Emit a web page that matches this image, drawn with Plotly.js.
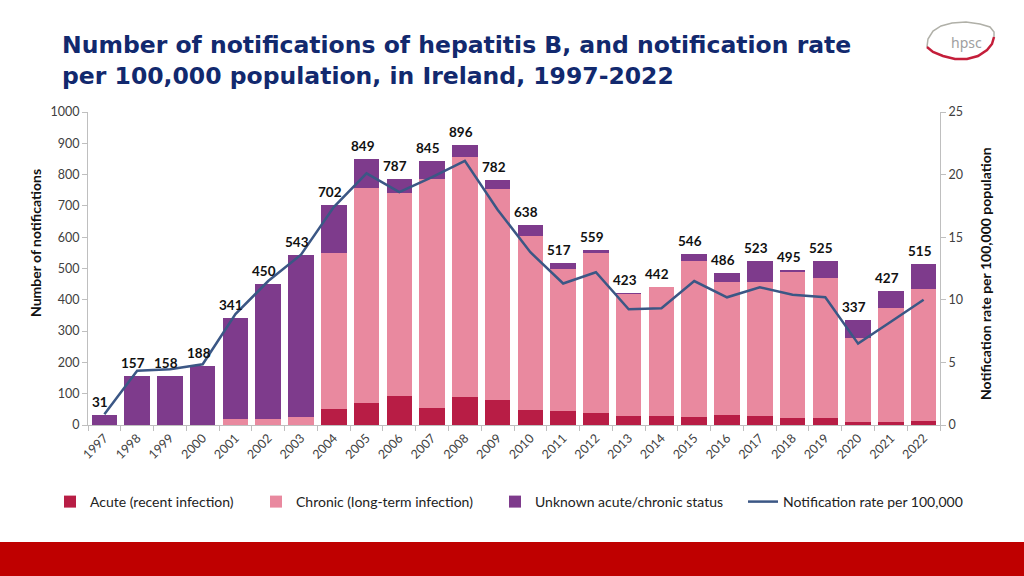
<!DOCTYPE html>
<html>
<head>
<meta charset="utf-8">
<script src="https://cdn.plot.ly/plotly-3.0.1.min.js"></script>
<style>
html,body{margin:0;padding:0;background:#fff;}
#chart{width:1024px;height:576px;}
</style>
</head>
<body>
<div id="chart"></div>
<script>
const years = ["1997","1998","1999","2000","2001","2002","2003","2004","2005","2006","2007","2008","2009","2010","2011","2012","2013","2014","2015","2016","2017","2018","2019","2020","2021","2022"];
const acute   = [0,0,0,0,0,0,0,51,69,94,55,89,80,48,45,37,29,29,26,32,29,23,23,11,11,13];
const chronic = [0,0,0,0,18,20,27,499,689,648,731,767,674,557,452,513,389,413,499,425,428,465,446,266,362,422];
const unknown = [31,157,158,188,323,430,516,152,91,45,59,40,28,33,20,9,5,0,21,29,66,7,56,60,54,80];
const totals  = [31,157,158,188,341,450,543,702,849,787,845,896,782,638,517,559,423,442,546,486,523,495,525,337,427,515];
const rate    = [0.85,4.34,4.45,4.85,8.86,11.5,13.6,17.4,20.1,18.6,19.8,21.1,17.2,13.8,11.3,12.2,9.24,9.32,11.5,10.2,11.0,10.4,10.2,6.5,8.25,10.0];

const W = 1024, H = 576;
const M = {l:88, r:84, t:112, b:151};
const pw = W - M.l - M.r, ph = H - M.t - M.b;
function px(x){ return (x - M.l) / pw; }
function py(y){ return (H - M.b - y) / ph; }

const FONT = "Lato, 'Open Sans', sans-serif";

const traces = [
  {type:'bar', name:'Acute (recent infection)', x:years, y:acute, marker:{color:'#b81d45'}, yaxis:'y', legend:'legend'},
  {type:'bar', name:'Chronic (long-term infection)', x:years, y:chronic, marker:{color:'#e9899f'}, yaxis:'y', legend:'legend2'},
  {type:'bar', name:'Unknown acute/chronic status', x:years, y:unknown, marker:{color:'#7e3b8c'}, yaxis:'y', legend:'legend3'},
  {type:'scatter', mode:'lines', name:'Notification rate per 100,000', x:years, y:rate, yaxis:'y2', legend:'legend4',
   line:{color:'#3b5785', width:2.5}}
];

const annotations = years.map((yr,i)=>({
  x: i, y: totals[i], xref:'x', yref:'y', text: String(totals[i]),
  showarrow:false, yanchor:'bottom', yshift:3, xshift:-4,
  font:{family:FONT, size:13.5, color:'#111', weight:'bold'}
}));

// title
annotations.push({
  xref:'paper', yref:'paper', x:px(60), y:py(60), xanchor:'left', yanchor:'middle', align:'left',
  showarrow:false,
  text:'Number of notifications of hepatitis B, and notification rate<br>per 100,000 population, in Ireland, 1997-2022',
  font:{family:"'DejaVu Sans', Verdana, sans-serif", size:23.5, color:'#12296e', weight:'bold'}
});
// axis titles
annotations.push({
  xref:'paper', yref:'paper', x:px(35), y:py(243), xanchor:'center', yanchor:'middle', textangle:-90,
  showarrow:false, text:'Number of notifications',
  font:{family:FONT, size:14, color:'#111', weight:'bold'}
});
annotations.push({
  xref:'paper', yref:'paper', x:px(985), y:py(274), xanchor:'center', yanchor:'middle', textangle:-90,
  showarrow:false, text:'Notification rate per 100,000 population',
  font:{family:FONT, size:14, color:'#111', weight:'bold'}
});
// hpsc logo text
annotations.push({
  xref:'paper', yref:'paper', x: px(966), y: py(43), text:'hpsc', showarrow:false,
  xanchor:'center', yanchor:'middle', font:{family:"'Noto Sans', sans-serif", size:14, color:'#a0a0a0'}
});

function path(points){
  return 'M ' + points.map(p=>px(p[0]).toFixed(4)+','+py(p[1]).toFixed(4)).join(' L ');
}
const shapes = [
  {type:'rect', xref:'paper', yref:'paper', x0:px(0), x1:px(1024), y0:py(576), y1:py(542),
   fillcolor:'#bf0000', line:{width:0}, layer:'above'},
  {type:'path', xref:'paper', yref:'paper',
   path: path([[927,47],[928,39],[933,31],[941,26],[952,23],[966,22],[980,24],[990,27],[994,32],[994,37]]),
   line:{color:'#b0b0a8', width:1.5}},
  {type:'path', xref:'paper', yref:'paper',
   path: path([[927,47],[933,52],[943,56],[955,59],[967,59],[978,56],[987,50],[992,44],[994,37]]),
   line:{color:'#c41e3a', width:2.5}}
];

function leg(xText){
  return {orientation:'h', x:px(xText-40), xanchor:'left', y:py(502), yanchor:'middle',
    font:{family:FONT, size:14, color:'#222'}, bgcolor:'rgba(0,0,0,0)'};
}

const layout = {
  width:W, height:H,
  margin:M,
  paper_bgcolor:'#fff', plot_bgcolor:'#fff',
  barmode:'stack', bargap:0.22,
  font:{family:FONT, size:12, color:'#404040'},
  xaxis:{
    type:'category', range:[-0.5, 25.5], autorange:false, tickangle:-45, ticks:'outside', tickson:'boundaries', ticklen:5,
    tickcolor:'#bfbfbf', showline:true, linecolor:'#bfbfbf', linewidth:1,
    tickfont:{family:FONT, size:12.5, color:'#404040'}, showgrid:false, zeroline:false
  },
  yaxis:{
    range:[0,1000], dtick:100, ticks:'outside', ticklen:5, tickcolor:'#bfbfbf',
    showline:true, linecolor:'#bfbfbf', showgrid:false, zeroline:false,
    tickfont:{family:FONT, size:12.5, color:'#404040'}
  },
  yaxis2:{
    overlaying:'y', side:'right', range:[0,25], dtick:5, ticks:'outside', ticklen:5, tickcolor:'#bfbfbf',
    showline:true, linecolor:'#bfbfbf', showgrid:false, zeroline:false,
    tickfont:{family:FONT, size:12.5, color:'#404040'}
  },
  legend:leg(90), legend2:leg(296), legend3:leg(535), legend4:leg(783),
  showlegend:true,
  annotations:annotations,
  shapes:shapes
};

Plotly.newPlot('chart', traces, layout, {displayModeBar:false, staticPlot:true});
</script>
</body>
</html>
